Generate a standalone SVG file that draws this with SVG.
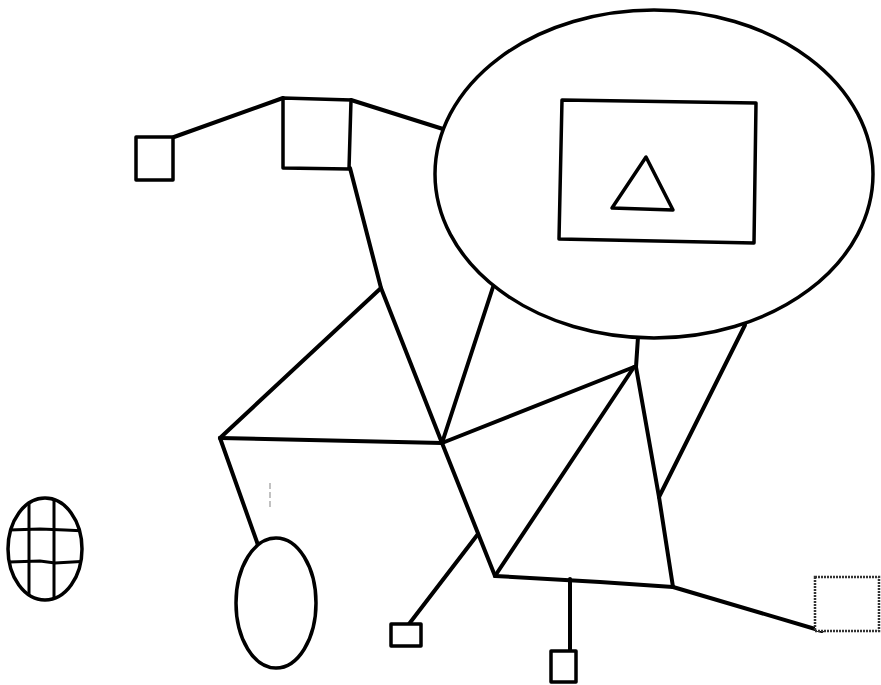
<svg xmlns="http://www.w3.org/2000/svg" width="881" height="685" viewBox="0 0 881 685">
  <style>
    .shape { fill: #ffffff; stroke: #000000; stroke-width: 3.5; stroke-linejoin: round; }
    .edge { fill: none; stroke: #000000; stroke-width: 4; stroke-linecap: round; stroke-linejoin: round; }
    .hatch { fill: none; stroke: #000000; stroke-width: 3; }
    .faint { fill: none; stroke: #999999; stroke-width: 1.2; stroke-dasharray: 6 3; }
  </style>
  <defs>
    <clipPath id="hatchClip">
      <ellipse cx="45" cy="549" rx="36" ry="50"/>
    </clipPath>
  </defs>
  <rect width="881" height="685" fill="#ffffff"/>

  <g id="connectors">
    <line class="edge" x1="174" y1="137" x2="283" y2="98"/>
    <line class="edge" x1="351" y1="100" x2="443" y2="129"/>
    <polyline class="edge" points="350,168 381,288 442,443"/>
    <line class="edge" x1="381" y1="288" x2="220" y2="438"/>
    <line class="edge" x1="220" y1="438" x2="442" y2="443"/>
    <line class="edge" x1="220" y1="438" x2="258" y2="545"/>
    <line class="edge" x1="493" y1="287" x2="442" y2="443"/>
    <line class="edge" x1="442" y1="443" x2="634" y2="367"/>
    <line class="edge" x1="442" y1="443" x2="495" y2="576"/>
    <line class="edge" x1="478" y1="534" x2="409" y2="624"/>
    <line class="edge" x1="638" y1="337" x2="636" y2="367"/>
    <line class="edge" x1="634" y1="367" x2="495" y2="576"/>
    <polyline class="edge" points="495,576 600,582 673,587"/>
    <line class="edge" x1="570" y1="579" x2="570" y2="651"/>
    <line class="edge" x1="636" y1="367" x2="659" y2="497"/>
    <line class="edge" x1="659" y1="497" x2="745" y2="325"/>
    <line class="edge" x1="659" y1="497" x2="673" y2="587"/>
    <line class="edge" x1="673" y1="587" x2="822" y2="631"/>
    <line class="faint" x1="270" y1="483" x2="270" y2="507"/>
  </g>

  <g id="big-ellipse">
    <ellipse class="shape" cx="654" cy="174" rx="219" ry="164" fill="none"/>
  </g>
  <g id="inner-rect">
    <polygon class="shape" points="562,100 756,103 754,243 559,239"/>
  </g>
  <g id="triangle">
    <polygon class="shape" points="646,157 612,208 673,210"/>
  </g>

  <g id="square-top-left">
    <rect class="shape" x="136" y="137" width="37" height="43"/>
  </g>
  <g id="square-top">
    <polygon class="shape" points="283,98 351,100 349,169 283,168"/>
  </g>
  <g id="square-right">
    <rect x="815" y="577" width="64" height="54" fill="#ffffff" stroke="#333333" stroke-width="2.5" stroke-dasharray="2 1"/>
  </g>
  <g id="square-bottom-left">
    <rect class="shape" x="391" y="624" width="30" height="22"/>
  </g>
  <g id="square-bottom">
    <rect class="shape" x="551" y="651" width="25" height="31"/>
  </g>

  <g id="ellipse-small">
    <ellipse class="shape" cx="276" cy="603" rx="40" ry="65"/>
  </g>

  <g id="hatched-ellipse">
    <g clip-path="url(#hatchClip)">
      <line class="hatch" x1="29" y1="495" x2="29" y2="605"/>
      <line class="hatch" x1="54" y1="495" x2="54" y2="605"/>
      <polyline class="hatch" points="5,530 40,529 65,530 90,531"/>
      <polyline class="hatch" points="5,562 40,561 55,563 90,561"/>
    </g>
    <ellipse cx="45" cy="549" rx="37" ry="51" fill="none" stroke="#000000" stroke-width="3.5"/>
  </g>
</svg>
